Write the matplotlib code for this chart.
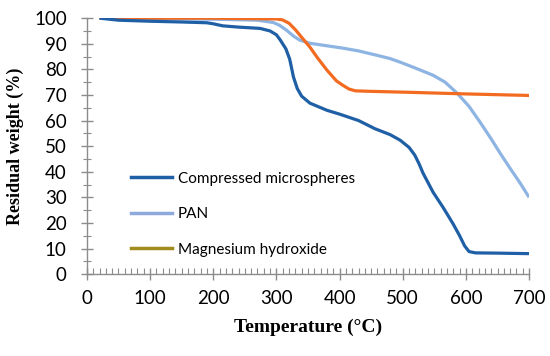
import matplotlib
matplotlib.use("Agg")
import matplotlib.pyplot as plt
from matplotlib.lines import Line2D
from matplotlib.ticker import MultipleLocator

# Data
temp_cm = [20, 50, 100, 150, 190, 200, 215, 240, 274, 290, 300, 306, 315, 321, 327, 333, 340, 353, 380, 400,
           430, 456, 480, 496, 510, 519, 526, 532, 548, 564, 580, 590, 598, 605, 615, 650, 700]
wt_cm = [100, 99.2, 98.8, 98.5, 98.2, 97.8, 97, 96.5, 96, 95, 93.5, 91.5, 88, 84, 77, 72.5, 69.5, 66.8, 64, 62.5,
         60, 56.8, 54.5, 52.3, 49.5, 46.5, 43, 39.5, 32, 26, 19.5, 15, 11, 8.8, 8.3, 8.2, 8.0]

temp_pan = [20, 100, 200, 270, 295, 305, 316, 327, 337, 353, 380, 405, 430, 459, 480, 496, 520, 548, 567, 586,
            605, 622, 640, 654, 670, 686, 700]
wt_pan = [100, 99.8, 99.6, 99.2, 98.3, 97.2, 95.3, 93, 91.4, 90.2, 89.2, 88.3, 87.2, 85.5, 84.2, 82.8, 80.5,
          77.7, 75, 70.7, 65.5, 59.5, 52.8, 47.3, 41.3, 35.5, 30]

temp_mg = [20, 100, 200, 300, 310, 320, 330, 340, 353, 365, 380, 395, 405, 415, 425, 450, 500, 600, 700]
wt_mg = [100, 100, 100, 99.7, 99.3, 98, 95.5, 92.5, 88.7, 84.5, 79.7, 75.5, 73.8, 72.3, 71.6, 71.4, 71.1,
         70.4, 69.8]

labels = ["Compressed microspheres", "PAN", "Magnesium hydroxide"]
line_colors = ["#1f5fa6", "#8db4e2", "#f26b21"]
legend_colors = ["#1f5fa6", "#8ea9db", "#a08c1e"]

fig = plt.figure(figsize=(5.5, 3.56), dpi=100)
ax = fig.add_axes([0.158, 0.230, 0.804, 0.719])

ax.plot(temp_pan, wt_pan, color=line_colors[1], lw=2.3, solid_capstyle='butt', solid_joinstyle='round')
ax.plot(temp_mg, wt_mg, color=line_colors[2], lw=2.3, solid_capstyle='butt', solid_joinstyle='round')
ax.plot(temp_cm, wt_cm, color=line_colors[0], lw=2.3, solid_capstyle='butt', solid_joinstyle='round')

ax.set_xlim(0, 700)
ax.set_ylim(0, 100)
ax.xaxis.set_major_locator(MultipleLocator(100))
ax.xaxis.set_minor_locator(MultipleLocator(10))
ax.yaxis.set_major_locator(MultipleLocator(10))
ax.yaxis.set_minor_locator(MultipleLocator(5))

for s in ["top", "right"]:
    ax.spines[s].set_visible(False)
for s in ["left", "bottom"]:
    ax.spines[s].set_color("#8c8c8c")
    ax.spines[s].set_linewidth(1.0)

tickfont = "Lato"
ax.tick_params(axis='x', which='major', direction='inout', length=9, width=1, color="#8c8c8c",
               labelsize=13.5, pad=7)
ax.tick_params(axis='x', which='minor', direction='in', length=4, width=0.8, color="#8c8c8c")
ax.tick_params(axis='y', which='major', direction='inout', length=9, width=1, color="#8c8c8c",
               labelsize=13.5, pad=10)
ax.tick_params(axis='y', which='minor', direction='inout', length=6, width=0.8, color="#8c8c8c")
for lab in ax.get_xticklabels() + ax.get_yticklabels():
    lab.set_fontfamily(tickfont)

ax.set_xlabel("Temperature (°C)", fontfamily="Liberation Serif", fontweight="bold", fontsize=14, labelpad=8)
ax.set_ylabel("Residual weight (%)", fontfamily="Liberation Serif", fontweight="bold", fontsize=13, labelpad=7)

handles = [Line2D([], [], color=c, lw=2.5) for c in legend_colors]
leg = ax.legend(handles, labels, loc='upper left', bbox_to_anchor=(0.10, 0.40), frameon=False,
                borderaxespad=0, borderpad=0, handlelength=2.7, handletextpad=0.35, labelspacing=1.4,
                prop={"family": tickfont, "size": 11})

fig.savefig("out.png", dpi=100, facecolor="white")
